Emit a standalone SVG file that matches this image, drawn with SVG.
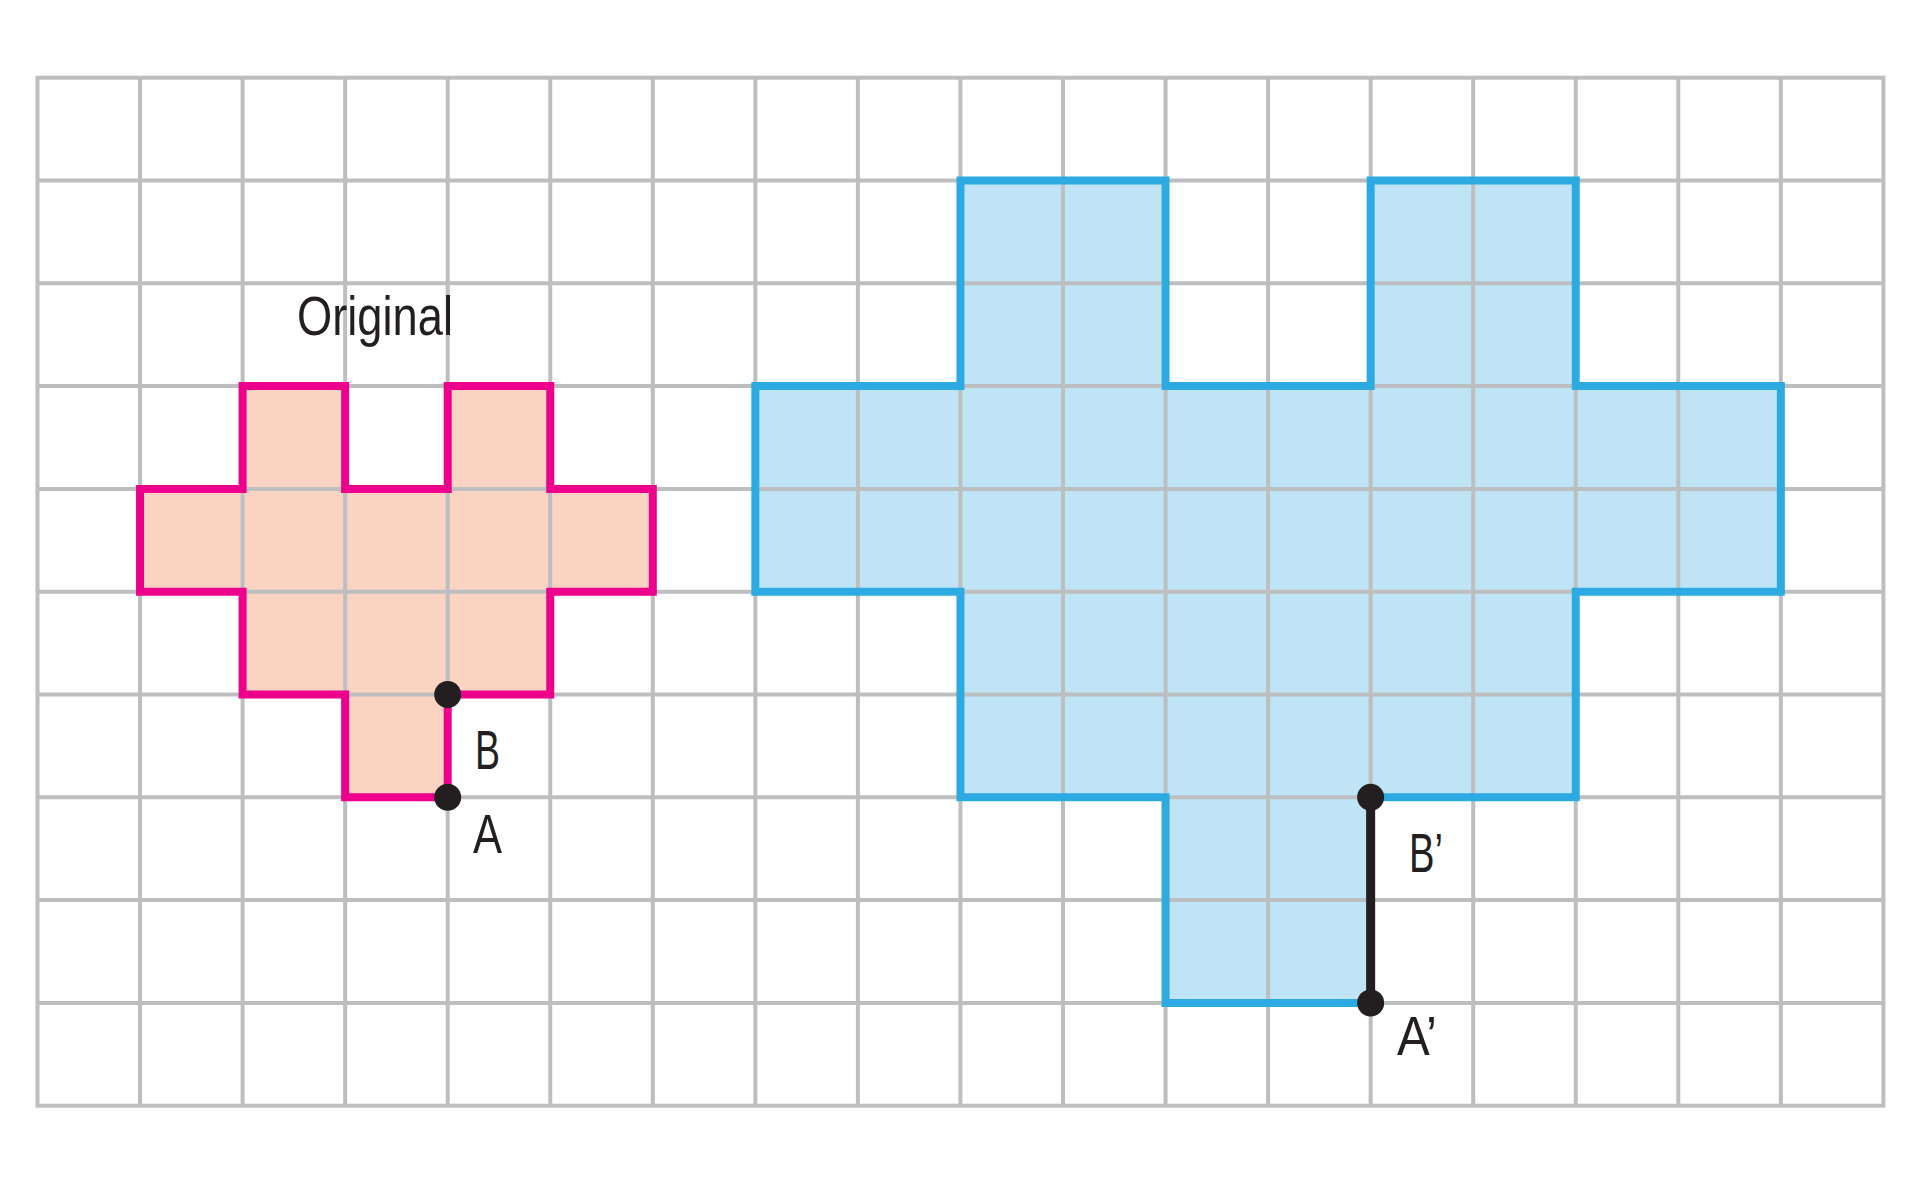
<svg xmlns="http://www.w3.org/2000/svg" width="1920" height="1183" viewBox="0 0 1920 1183">
<style>
.grid{stroke:#bcbec0;stroke-width:4;fill:none}
.lbl{font-family:"Liberation Sans",Arial,sans-serif;font-size:56px;fill:#231f20}
.dot{fill:#231f20}
</style>
<rect width="1920" height="1183" fill="#ffffff"/>
<g id="original-fill"><path d="M242.6,386.1 H345.15 V488.9 H447.7 V386.1 H550.25 V488.9 H652.8 V591.7 H550.25 V694.5 H447.7 V797.3 H345.15 V694.5 H242.6 V591.7 H140.05 V488.9 H242.6 Z" fill="#fbd3c3"/></g>
<g id="image-fill"><path d="M960.45,180.5 H1165.55 V386.1 H1370.65 V180.5 H1575.75 V386.1 H1780.85 V591.7 H1575.75 V797.3 H1370.65 V1002.9 H1165.55 V797.3 H960.45 V591.7 H755.35 V386.1 H960.45 Z" fill="#bfe4f5"/></g>
<g id="grid" class="grid">
<rect x="37.5" y="77.7" width="1845.9" height="1028"/>
<path d="M140.05,77.7V1105.7 M242.6,77.7V1105.7 M345.15,77.7V1105.7 M447.7,77.7V1105.7 M550.25,77.7V1105.7 M652.8,77.7V1105.7 M755.35,77.7V1105.7 M857.9,77.7V1105.7 M960.45,77.7V1105.7 M1063,77.7V1105.7 M1165.55,77.7V1105.7 M1268.1,77.7V1105.7 M1370.65,77.7V1105.7 M1473.2,77.7V1105.7 M1575.75,77.7V1105.7 M1678.3,77.7V1105.7 M1780.85,77.7V1105.7"/>
<path d="M37.5,180.5H1883.4 M37.5,283.3H1883.4 M37.5,386.1H1883.4 M37.5,488.9H1883.4 M37.5,591.7H1883.4 M37.5,694.5H1883.4 M37.5,797.3H1883.4 M37.5,900.1H1883.4 M37.5,1002.9H1883.4"/>
</g>
<g id="original"><path d="M242.6,386.1 H345.15 V488.9 H447.7 V386.1 H550.25 V488.9 H652.8 V591.7 H550.25 V694.5 H447.7 V797.3 H345.15 V694.5 H242.6 V591.7 H140.05 V488.9 H242.6 Z" fill="none" stroke="#ec008c" stroke-width="8"/></g>
<g id="image"><path d="M960.45,180.5 H1165.55 V386.1 H1370.65 V180.5 H1575.75 V386.1 H1780.85 V591.7 H1575.75 V797.3 H1370.65 V1002.9 H1165.55 V797.3 H960.45 V591.7 H755.35 V386.1 H960.45 Z" fill="none" stroke="#2caae1" stroke-width="8"/></g>
<g id="connectors"><line x1="1370.65" y1="797.3" x2="1370.65" y2="1002.9" stroke="#231f20" stroke-width="9"/></g>
<g id="points">
<circle class="dot" cx="447.7" cy="694.5" r="13.5"/>
<circle class="dot" cx="447.7" cy="797.3" r="13.5"/>
<circle class="dot" cx="1370.65" cy="797.3" r="13.5"/>
<circle class="dot" cx="1370.65" cy="1002.9" r="13.5"/>
</g>
<g id="labels">
<text class="lbl" x="297" y="335" textLength="156" lengthAdjust="spacingAndGlyphs" font-size="58">Original</text>
<text class="lbl" x="475" y="769" textLength="25" lengthAdjust="spacingAndGlyphs">B</text>
<text class="lbl" x="473" y="853" textLength="29" lengthAdjust="spacingAndGlyphs">A</text>
<text class="lbl" x="1409" y="872" textLength="34" lengthAdjust="spacingAndGlyphs">B’</text>
<text class="lbl" x="1397" y="1055" textLength="40" lengthAdjust="spacingAndGlyphs">A’</text>
</g>
</svg>
